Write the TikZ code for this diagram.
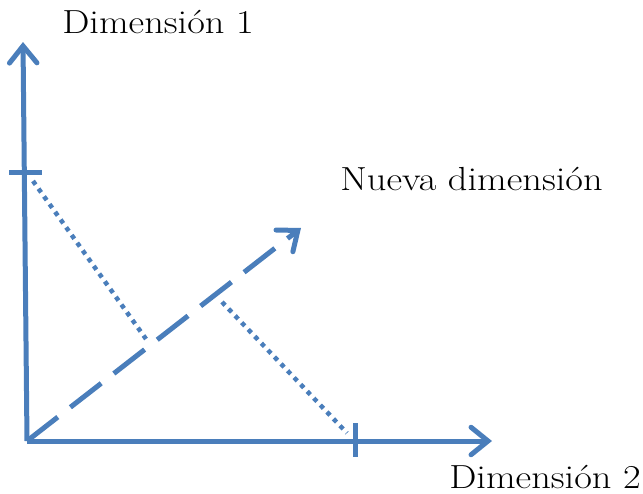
\documentclass[tikz,border=0pt]{standalone}
\usetikzlibrary{arrows.meta}
\definecolor{axisblue}{RGB}{74,126,187}
\newcommand{\widetext}[1]{\scalebox{1.15}[1]{#1}}

\begin{document}
\begin{tikzpicture}[x=0.02cm, y=-0.02cm, font=\fontsize{19}{23}\selectfont,
  axis/.style={line width=0.1cm, draw=axisblue, -{Straight Barb[length=0.34cm, width=0.55cm, line cap=round]}},
  newaxis/.style={axis, dash pattern=on 0.78cm off 0.32cm},
  tick/.style={line width=0.1cm, draw=axisblue},
  projection/.style={line width=0.09cm, draw=axisblue, dash pattern=on 0.09cm off 0.1cm},
  label/.style={anchor=base west, inner sep=0pt}]

      \useasboundingbox (0,0) rectangle (643,494);

      % axes
      \coordinate (origin) at (27,441);
      \coordinate (dimOneEnd) at (23,42);
      \coordinate (dimTwoEnd) at (492,441);
      \coordinate (newEnd) at (301,228);

      \draw[axis] (origin) -- (dimOneEnd);
      \draw[axis] (origin) -- (dimTwoEnd);
      \draw[newaxis] (origin) -- (newEnd);

      % ticks
      \coordinate (tickOneL) at (9,172);
      \coordinate (tickOneR) at (42,172);
      \coordinate (tickTwoT) at (355,423);
      \coordinate (tickTwoB) at (355,457);
      \draw[tick] (tickOneL) -- (tickOneR);
      \draw[tick] (tickTwoT) -- (tickTwoB);

      % projections onto the new dimension
      \coordinate (projOneA) at (33,181);
      \coordinate (projOneB) at (146,339);
      \coordinate (projTwoA) at (222,302);
      \coordinate (projTwoB) at (347,433);
      \draw[projection] (projOneA) -- (projOneB);
      \draw[projection] (projTwoA) -- (projTwoB);

      \node[label] (dimOne) at (62,33) {\widetext{Dimensión 1}};
      \node[label] (newDim) at (340,190) {\widetext{Nueva dimensión}};
      \node[label] (dimTwo) at (449,488) {\widetext{Dimensión 2}};
\end{tikzpicture}
\end{document}
